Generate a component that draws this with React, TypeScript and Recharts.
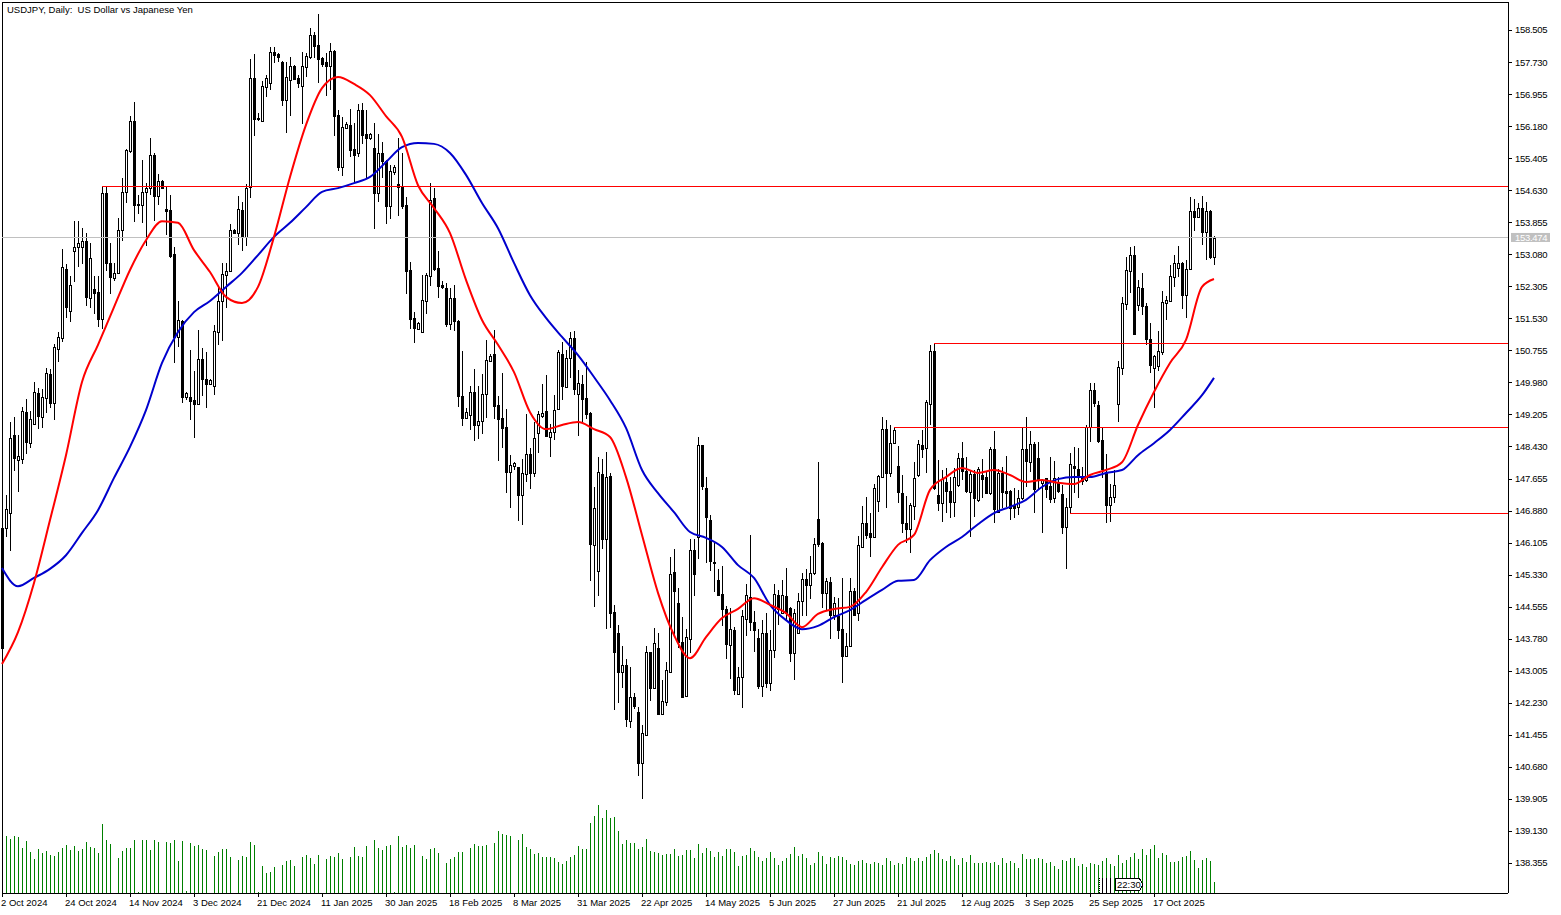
import { Bar, ComposedChart, Line, ReferenceLine, XAxis, YAxis } from "recharts";

const FONT = "'Liberation Sans', Arial, sans-serif";

// daily bars, oldest first
const opens = [
  146.46, 146.46, 146.82, 148.71, 148.10, 148.13, 149.26, 148.51, 148.97, 149.72,
  149.14, 149.60, 150.18, 149.48, 150.79, 151.05, 152.72, 151.71, 153.16, 153.26,
  153.26, 153.40, 152.02, 152.24, 152.17, 151.51, 154.56, 152.87, 152.51, 152.63,
  153.67, 154.59, 155.58, 156.30, 154.30, 154.27, 154.59, 154.68, 155.48, 154.49,
  154.85, 154.17, 154.15, 153.09, 151.08, 151.47, 149.63, 149.63, 149.55, 149.46,
  150.55, 150.06, 149.94, 149.89, 151.20, 151.95, 152.58, 152.67, 153.67, 153.59,
  154.15, 153.50, 154.71, 157.34, 156.38, 156.30, 157.13, 157.22, 157.97, 157.92,
  157.73, 156.81, 157.30, 157.63, 157.34, 157.15, 157.61, 157.85, 158.38, 158.14,
  157.83, 157.73, 157.63, 157.99, 156.45, 155.19, 156.13, 156.21, 155.63, 155.53,
  156.57, 155.99, 155.89, 155.65, 154.56, 155.53, 155.34, 154.25, 155.07, 154.78,
  154.71, 154.27, 152.70, 151.54, 151.27, 151.20, 151.95, 152.55, 154.44, 152.75,
  152.34, 152.26, 151.39, 152.02, 151.46, 149.65, 149.12, 149.19, 149.75, 148.95,
  149.05, 149.70, 150.50, 150.67, 149.43, 149.12, 148.90, 147.81, 147.96, 147.93,
  147.26, 147.76, 148.25, 147.79, 148.76, 149.17, 149.29, 148.66, 148.78, 149.34,
  150.67, 149.87, 150.57, 151.05, 149.70, 149.94, 149.60, 149.24, 146.05, 145.42,
  147.76, 146.19, 147.72, 144.43, 143.92, 142.97, 143.14, 141.79, 142.37, 142.01,
  140.77, 141.45, 143.46, 142.59, 143.55, 141.96, 142.25, 142.97, 145.39, 144.64,
  143.70, 142.39, 143.77, 145.93, 146.24, 148.47, 147.42, 146.65, 145.64, 145.20,
  144.86, 144.50, 143.63, 143.99, 142.44, 142.85, 144.26, 144.79, 144.18, 143.80,
  142.64, 143.92, 142.71, 143.51, 144.84, 144.40, 144.81, 144.52, 143.43, 143.92,
  144.69, 145.22, 145.08, 145.37, 146.68, 146.09, 144.88, 145.15, 144.35, 144.33,
  144.01, 143.36, 143.60, 144.93, 144.40, 146.00, 146.58, 146.34, 146.24, 147.11,
  147.69, 148.85, 147.79, 148.51, 147.96, 147.30, 146.58, 146.43, 146.99, 147.74,
  148.47, 148.39, 149.46, 150.74, 147.26, 147.06, 147.57, 147.35, 147.09, 147.50,
  148.15, 147.84, 147.33, 147.76, 147.14, 147.74, 147.69, 147.30, 148.37, 146.84,
  147.79, 147.35, 147.35, 147.01, 146.97, 147.18, 148.37, 148.05, 148.49, 148.15,
  147.55, 147.67, 147.47, 147.18, 147.55, 147.28, 146.48, 146.97, 147.96, 147.88,
  147.67, 147.62, 148.90, 149.80, 149.43, 148.59, 147.81, 147.01, 147.21, 149.46,
  150.33, 151.88, 152.67, 153.06, 151.85, 152.26, 151.83, 151.03, 150.33, 150.38,
  150.72, 151.90, 151.95, 152.53, 152.75, 152.87, 152.09, 152.72, 154.13, 153.98,
  154.20, 153.62, 154.13, 153.01,
];

const highs = [
  146.53, 147.26, 149.02, 149.14, 148.71, 149.38, 149.58, 149.29, 149.99, 149.84,
  149.82, 150.33, 150.30, 150.91, 151.20, 153.21, 152.84, 152.55, 153.88, 153.88,
  153.71, 153.59, 153.35, 152.55, 152.55, 154.71, 154.73, 153.35, 152.87, 153.96,
  154.92, 155.63, 156.42, 156.76, 154.51, 155.36, 154.80, 155.89, 155.53, 155.02,
  154.88, 154.71, 154.51, 153.26, 151.95, 151.49, 149.75, 150.76, 150.26, 151.25,
  150.81, 150.72, 150.06, 151.37, 152.26, 152.87, 152.87, 153.81, 153.69, 154.49,
  154.34, 154.78, 157.80, 157.92, 156.50, 157.27, 157.42, 158.09, 158.09, 157.95,
  157.75, 157.73, 157.85, 157.66, 157.42, 157.97, 157.95, 158.55, 158.46, 158.89,
  157.85, 157.95, 158.19, 158.02, 156.57, 156.40, 156.28, 156.59, 156.25, 156.71,
  156.74, 156.57, 156.01, 156.25, 155.99, 155.80, 155.36, 155.24, 155.24, 155.89,
  155.53, 154.46, 152.89, 151.68, 151.44, 152.58, 152.63, 154.80, 154.68, 153.16,
  152.43, 152.38, 152.26, 152.34, 151.49, 150.74, 149.36, 149.89, 150.30, 149.89,
  150.18, 151.01, 150.67, 151.25, 149.65, 150.21, 149.34, 148.22, 148.05, 147.93,
  148.13, 149.22, 148.39, 149.02, 149.29, 149.94, 150.16, 148.97, 149.67, 150.76,
  150.96, 150.76, 151.20, 151.22, 150.28, 150.16, 150.47, 149.26, 147.45, 148.18,
  148.13, 148.30, 147.79, 144.60, 144.11, 143.60, 143.29, 143.09, 142.47, 142.13,
  141.69, 143.60, 143.46, 144.04, 143.92, 142.78, 143.22, 145.76, 145.95, 145.01,
  144.30, 144.01, 146.19, 146.19, 148.66, 148.47, 147.69, 146.77, 146.09, 145.47,
  145.54, 144.57, 144.52, 144.06, 143.09, 144.47, 145.10, 146.29, 144.45, 144.01,
  144.23, 144.40, 143.99, 145.10, 144.96, 145.20, 145.49, 144.55, 144.50, 144.89,
  145.37, 145.47, 145.78, 146.22, 148.05, 146.12, 145.25, 145.27, 144.79, 144.76,
  145.25, 143.92, 145.25, 145.01, 146.27, 146.99, 147.21, 146.82, 147.52, 147.74,
  149.14, 149.07, 148.95, 148.88, 148.44, 147.74, 147.23, 147.06, 148.05, 148.59,
  148.83, 149.55, 150.89, 150.93, 148.10, 147.86, 147.91, 147.69, 147.91, 148.27,
  148.54, 148.18, 147.86, 147.86, 147.93, 148.13, 147.81, 148.42, 148.80, 147.88,
  147.93, 148.20, 147.38, 147.43, 147.38, 148.90, 149.14, 148.80, 148.54, 148.54,
  147.64, 147.67, 148.18, 148.08, 147.69, 147.50, 147.18, 148.27, 148.42, 148.39,
  147.93, 148.95, 149.97, 149.97, 149.53, 148.90, 148.25, 147.52, 147.86, 150.50,
  152.05, 153.01, 153.26, 153.28, 152.46, 152.63, 151.90, 151.41, 150.64, 151.22,
  152.19, 152.07, 152.82, 153.06, 153.28, 152.89, 152.94, 154.46, 154.42, 154.32,
  154.49, 154.34, 154.15, 153.52,
];

const lows = [
  143.51, 146.24, 145.90, 147.84, 147.33, 148.01, 148.25, 148.39, 148.97, 148.85,
  148.88, 149.24, 149.36, 149.07, 150.47, 150.96, 151.54, 151.44, 152.41, 152.77,
  152.84, 151.83, 151.78, 151.64, 151.32, 151.27, 152.67, 152.12, 152.43, 152.60,
  153.40, 154.32, 155.53, 153.86, 154.05, 153.84, 153.28, 154.51, 153.88, 154.27,
  154.66, 153.55, 152.99, 150.45, 150.84, 149.48, 149.55, 149.07, 148.64, 149.43,
  149.65, 149.36, 149.92, 149.67, 150.89, 150.98, 151.78, 152.65, 153.57, 153.30,
  153.16, 153.28, 154.44, 155.94, 156.30, 156.30, 156.88, 157.05, 157.71, 157.73,
  156.67, 156.01, 156.42, 157.30, 157.10, 156.23, 157.37, 157.80, 157.83, 157.22,
  157.61, 156.91, 157.05, 155.94, 155.09, 154.97, 156.11, 155.43, 154.80, 155.43,
  155.75, 154.92, 155.84, 153.69, 154.34, 154.92, 153.81, 153.93, 154.99, 154.00,
  154.17, 152.12, 151.27, 150.93, 151.27, 151.17, 151.64, 152.31, 152.67, 152.02,
  152.24, 151.32, 151.25, 151.22, 149.38, 148.92, 149.12, 148.83, 148.56, 148.61,
  148.73, 149.12, 150.47, 149.09, 148.08, 148.39, 147.30, 146.94, 147.86, 146.63,
  146.53, 147.57, 147.40, 147.69, 148.27, 149.12, 148.66, 148.18, 148.59, 149.31,
  149.55, 149.84, 150.09, 149.67, 148.68, 149.00, 149.09, 145.18, 144.55, 144.81,
  145.95, 144.01, 144.04, 142.05, 142.22, 142.59, 141.64, 141.62, 142.08, 140.46,
  139.90, 141.42, 142.27, 142.59, 141.96, 141.96, 142.15, 142.95, 143.87, 143.55,
  142.35, 142.37, 143.43, 144.81, 145.71, 147.38, 145.61, 145.42, 144.91, 144.84,
  144.09, 143.29, 142.80, 142.42, 142.42, 142.10, 143.85, 143.97, 143.46, 142.56,
  142.37, 142.59, 142.51, 143.31, 144.11, 144.40, 144.23, 143.22, 142.78, 143.92,
  144.33, 144.33, 144.74, 145.32, 146.00, 144.52, 144.47, 143.77, 144.23, 143.77,
  142.71, 143.34, 143.58, 144.35, 144.21, 145.97, 146.19, 145.76, 146.24, 146.85,
  147.67, 146.94, 147.69, 148.51, 147.06, 146.34, 146.09, 145.85, 146.65, 147.69,
  148.15, 147.79, 148.95, 147.38, 146.87, 146.60, 146.82, 146.70, 146.72, 147.45,
  147.62, 147.30, 146.24, 146.72, 147.09, 147.18, 147.30, 147.26, 146.58, 146.82,
  146.94, 146.97, 146.65, 146.70, 146.77, 147.14, 147.45, 147.81, 146.82, 147.38,
  146.34, 147.18, 147.06, 147.06, 147.30, 146.31, 145.47, 146.80, 147.30, 147.18,
  147.50, 147.57, 148.54, 149.38, 148.51, 147.67, 146.58, 146.60, 147.06, 149.02,
  150.16, 151.73, 152.14, 151.13, 151.71, 151.61, 150.89, 150.21, 149.36, 150.26,
  150.64, 151.49, 151.92, 152.29, 152.53, 151.76, 151.54, 152.70, 153.64, 153.98,
  153.30, 152.94, 152.96, 152.82,
];

const closes = [
  143.56, 146.92, 148.64, 148.15, 148.20, 149.29, 148.54, 149.09, 149.75, 149.17,
  149.63, 150.21, 149.48, 150.84, 151.08, 152.77, 151.80, 152.34, 153.26, 153.35,
  153.40, 152.05, 152.99, 152.14, 151.51, 154.56, 152.87, 152.53, 152.63, 153.67,
  154.59, 155.60, 156.30, 154.27, 154.27, 154.59, 154.68, 155.48, 154.49, 154.85,
  154.68, 154.13, 153.04, 151.08, 151.49, 149.63, 149.72, 149.53, 149.46, 150.55,
  150.06, 149.94, 150.04, 151.22, 151.95, 152.60, 152.67, 153.67, 153.59, 154.17,
  153.52, 154.68, 157.34, 156.35, 156.35, 157.15, 157.34, 157.97, 157.90, 157.85,
  156.81, 157.37, 157.63, 157.32, 157.22, 157.63, 157.88, 158.38, 158.12, 157.80,
  157.68, 157.63, 157.99, 156.42, 155.19, 156.16, 156.23, 155.60, 155.48, 156.57,
  155.96, 155.89, 155.99, 154.56, 155.53, 155.34, 154.25, 155.09, 155.19, 154.71,
  154.25, 152.67, 151.51, 151.30, 151.42, 151.97, 152.58, 154.39, 152.72, 152.31,
  152.29, 151.39, 152.02, 151.46, 149.65, 149.12, 149.26, 149.75, 148.95, 149.05,
  149.70, 150.52, 150.62, 149.41, 149.09, 148.88, 147.81, 147.98, 148.03, 147.26,
  147.79, 148.25, 147.79, 148.64, 149.22, 149.24, 148.68, 148.78, 149.31, 150.72,
  149.89, 150.57, 151.05, 149.82, 149.96, 149.58, 149.22, 146.07, 146.94, 147.81,
  146.19, 147.69, 144.40, 143.46, 142.97, 143.14, 141.84, 142.37, 142.15, 140.77,
  141.50, 143.46, 142.59, 143.68, 141.96, 142.27, 143.02, 145.35, 144.93, 143.70,
  142.37, 143.82, 145.93, 145.35, 148.47, 147.47, 146.72, 145.66, 145.61, 144.84,
  144.50, 143.65, 144.01, 142.54, 142.85, 144.33, 144.84, 144.18, 143.99, 142.64,
  143.92, 142.71, 143.51, 144.86, 144.50, 144.84, 144.40, 143.43, 144.40, 144.69,
  145.22, 145.08, 145.37, 146.07, 146.07, 144.88, 145.18, 144.35, 144.64, 143.99,
  143.36, 143.60, 144.93, 144.35, 146.05, 146.58, 146.29, 146.24, 147.42, 147.71,
  148.85, 147.79, 148.51, 148.83, 147.33, 146.58, 146.43, 147.01, 147.67, 148.49,
  148.37, 149.50, 150.74, 147.43, 147.06, 147.64, 147.35, 147.09, 147.69, 148.15,
  147.84, 147.35, 147.76, 147.18, 147.88, 147.64, 147.30, 148.37, 146.92, 147.79,
  147.33, 147.30, 146.94, 146.94, 147.18, 148.37, 148.08, 148.49, 147.40, 147.62,
  147.62, 147.40, 147.16, 147.67, 147.35, 146.48, 146.97, 148.01, 147.91, 147.69,
  147.59, 148.90, 149.80, 149.48, 148.56, 147.88, 147.01, 147.21, 147.50, 150.35,
  151.90, 152.70, 153.06, 151.15, 152.29, 151.83, 151.03, 150.40, 150.62, 150.74,
  151.92, 151.97, 152.55, 152.87, 152.87, 152.09, 152.72, 154.13, 153.98, 154.20,
  153.62, 154.13, 153.01, 153.474,
];

// tick volume, thousands
const volumes = [
  50, 57, 54, 57, 56, 45, 52, 41, 34, 44, 40, 42, 38, 37, 41, 45, 48, 43, 47, 42,
  44, 51, 46, 45, 40, 69, 53, 49, 0, 35, 42, 45, 45, 53, 1, 53, 53, 43, 53, 51,
  0, 51, 50, 53, 32, 52, 2, 50, 47, 48, 44, 43, 0, 37, 41, 44, 44, 36, 0, 33,
  37, 36, 51, 48, 1, 27, 20, 21, 26, 0, 28, 32, 33, 27, 0, 36, 38, 35, 29, 38,
  0, 34, 37, 36, 40, 34, 0, 36, 46, 37, 36, 47, 0, 53, 45, 43, 47, 48, 1, 57,
  46, 48, 45, 48, 0, 37, 34, 44, 45, 40, 0, 30, 34, 36, 41, 41, 0, 45, 49, 47,
  47, 48, 0, 50, 62, 59, 58, 57, 0, 53, 59, 46, 44, 39, 40, 36, 36, 36, 35, 31,
  29, 32, 36, 38, 47, 44, 44, 70, 77, 88, 75, 83, 75, 76, 62, 49, 53, 50, 50, 44,
  46, 54, 42, 41, 40, 38, 39, 39, 44, 37, 38, 43, 43, 35, 49, 40, 45, 42, 36, 41,
  37, 44, 44, 41, 27, 37, 38, 45, 42, 36, 32, 35, 41, 35, 28, 32, 35, 39, 46, 37,
  39, 35, 28, 30, 41, 37, 29, 36, 35, 37, 36, 33, 29, 28, 32, 33, 30, 29, 31, 30,
  28, 35, 32, 28, 30, 29, 36, 35, 32, 35, 32, 36, 39, 43, 40, 34, 32, 37, 34, 28,
  35, 31, 38, 30, 30, 30, 31, 30, 31, 28, 35, 30, 32, 30, 25, 39, 34, 34, 34, 35,
  34, 30, 31, 27, 24, 33, 32, 35, 35, 27, 29, 26, 30, 29, 28, 32, 35, 29, 27, 38,
  30, 33, 36, 40, 34, 44, 38, 44, 48, 35, 40, 38, 31, 31, 32, 36, 37, 42, 33, 25,
  33, 35, 32, 11,
];

// moving averages read at these bars only
const maBars = [
  0, 4, 8, 12, 16, 20, 24, 28, 32, 36, 40, 44, 48, 52, 56, 60, 64, 68, 72, 76,
  80, 84, 88, 92, 96, 100, 104, 108, 112, 116, 120, 124, 128, 132, 136, 140, 144, 148, 152, 156,
  160, 164, 168, 172, 176, 180, 184, 188, 192, 196, 200, 204, 208, 212, 216, 220, 224, 228, 232, 236,
  240, 244, 248, 252, 256, 260, 264, 268, 272, 276, 280, 284, 288, 292, 296, 300, 303,
];
const fastMa = [
  143.17, 143.94, 145.13, 146.65, 148.22, 149.99, 150.89, 151.80, 152.70, 153.42,
  153.88, 153.84, 153.18, 152.65, 152.05, 151.90, 152.29, 153.50, 154.95, 156.21,
  157.10, 157.37, 157.20, 156.93, 156.42, 155.92, 154.75, 154.20, 153.59, 152.46,
  151.49, 150.89, 150.23, 149.26, 148.85, 148.95, 149.02, 148.85, 148.66, 147.69,
  146.29, 144.89, 143.87, 143.31, 143.82, 144.28, 144.50, 144.76, 144.60, 144.40,
  144.06, 144.38, 144.50, 144.55, 144.91, 145.51, 146.05, 146.29, 147.38, 147.69,
  147.91, 147.79, 147.86, 147.74, 147.57, 147.62, 147.55, 147.52, 147.74, 147.86,
  148.05, 148.95, 149.75, 150.45, 151.01, 152.29, 152.48,
];
const slowMa = [
  145.49, 145.05, 145.25, 145.47, 145.80, 146.34, 146.89, 147.67, 148.42, 149.31,
  150.45, 151.20, 151.68, 151.95, 152.29, 152.63, 153.06, 153.50, 153.84, 154.22,
  154.59, 154.68, 154.80, 154.95, 155.31, 155.67, 155.77, 155.75, 155.53, 155.00,
  154.32, 153.71, 152.87, 152.09, 151.54, 151.08, 150.64, 150.11, 149.55, 148.88,
  147.86, 147.30, 146.84, 146.36, 146.22, 146.00, 145.56, 145.25, 144.60, 144.23,
  144.01, 144.09, 144.30, 144.47, 144.72, 144.96, 145.18, 145.20, 145.68, 146.00,
  146.24, 146.55, 146.82, 146.97, 147.14, 147.45, 147.64, 147.69, 147.69, 147.79,
  147.86, 148.22, 148.51, 148.83, 149.24, 149.67, 150.09,
];

const priceTicks = [
  158.505, 157.73, 156.955, 156.18, 155.405, 154.63, 153.855, 153.08, 152.305, 151.53,
  150.755, 149.98, 149.205, 148.43, 147.655, 146.88, 146.105, 145.33, 144.555, 143.78,
  143.005, 142.23, 141.455, 140.68, 139.905, 139.13, 138.355,
];
const dateLabels = [
  "2 Oct 2024", "24 Oct 2024", "14 Nov 2024", "3 Dec 2024", "21 Dec 2024", "11 Jan 2025",
  "30 Jan 2025", "18 Feb 2025", "8 Mar 2025", "31 Mar 2025", "22 Apr 2025", "14 May 2025",
  "5 Jun 2025", "27 Jun 2025", "21 Jul 2025", "12 Aug 2025", "3 Sep 2025", "25 Sep 2025",
  "17 Oct 2025",
];
const dateTicks = dateLabels.map((_, k) => k * 16);

const lastPrice = 153.474;
// horizontal levels: bar where the level starts, and its price
const levelBars = [25, 223, 233, 267];
const levelPrices = [154.71, 148.88, 150.91, 146.8];

const Y_TOP = 159.182;
const Y_BOTTOM = 137.629;
const X_END = 376.5;

const rows = opens.map((open, i) => {
  const m = maBars.indexOf(i);
  return {
    i,
    open,
    high: highs[i],
    low: lows[i],
    close: closes[i],
    volume: volumes[i],
    fast: m >= 0 ? fastMa[m] : null,
    slow: m >= 0 ? slowMa[m] : null,
  };
});

function Candle(props: any) {
  const { x, y, width, height, payload } = props;
  const cx = Math.round(x + width / 2);
  const perPrice = height / (payload.high - payload.low);
  const yOf = (p: number) => Math.round(y + (payload.high - p) * perPrice);
  const top = yOf(Math.max(payload.open, payload.close));
  const bottom = yOf(Math.min(payload.open, payload.close));
  const up = payload.close >= payload.open;
  return (
    <g shapeRendering="crispEdges">
      <line x1={cx + 0.5} x2={cx + 0.5} y1={yOf(payload.high)} y2={yOf(payload.low)} stroke="#000" />
      {up ? (
        <rect x={cx - 0.5} y={top + 0.5} width={2} height={Math.max(bottom - top, 1)} fill="#fff" stroke="#000" />
      ) : (
        <rect x={cx - 1} y={top} width={3} height={Math.max(bottom - top + 1, 2)} fill="#000" />
      )}
    </g>
  );
}

function VolumeBar(props: any) {
  const { x, y, width, height } = props;
  const cx = Math.round(x + width / 2);
  return <rect x={cx} y={y} width={1} height={height} fill="#008000" shapeRendering="crispEdges" />;
}

function PriceTick(props: any) {
  const { x, y, payload } = props;
  if (payload.value === lastPrice) {
    return (
      <g>
        <rect x={x - 5} y={y - 5} width={39} height={9} fill="#c0c0c0" />
        <text x={x - 1} y={y + 3} fontSize={9.5} letterSpacing={-0.3} fontFamily={FONT} fill="#fff">
          {lastPrice.toFixed(3)}
        </text>
      </g>
    );
  }
  return (
    <g>
      <line x1={x - 8} x2={x - 4} y1={Math.round(y) + 0.5} y2={Math.round(y) + 0.5} stroke="#000" shapeRendering="crispEdges" />
      <text x={x - 1} y={y + 3.5} fontSize={9.5} letterSpacing={-0.3} fontFamily={FONT} fill="#000">
        {payload.value.toFixed(3)}
      </text>
    </g>
  );
}

function DateTick(props: any) {
  const { x, y, payload } = props;
  return (
    <g>
      <line x1={x + 0.5} x2={x + 0.5} y1={y - 8} y2={y - 4} stroke="#000" shapeRendering="crispEdges" />
      <text x={x - 1} y={y + 5} fontSize={9.5} fontFamily={FONT} fill="#000">
        {dateLabels[payload.index ?? dateTicks.indexOf(payload.value)]}
      </text>
    </g>
  );
}

export default function App() {
  return (
    <div style={{ position: "absolute", left: 0, top: 0, width: 1561, height: 915, background: "#fff" }}>
      <ComposedChart
        width={1561}
        height={915}
        data={rows}
        margin={{ top: 2, right: 0, left: 2, bottom: 0 }}
      >
        <XAxis
          dataKey="i"
          type="number"
          domain={[0, X_END]}
          ticks={dateTicks}
          interval={0}
          height={22}
          tick={DateTick}
          tickLine={false}
          axisLine={{ stroke: "#000", shapeRendering: "crispEdges" }}
        />
        {/* volume gets its own x axis so its bars are not grouped beside the candles */}
        <XAxis xAxisId="vol" dataKey="i" type="number" domain={[0, X_END]} hide />
        <YAxis
          yAxisId="price"
          orientation="right"
          domain={[Y_BOTTOM, Y_TOP]}
          ticks={[...priceTicks, lastPrice]}
          interval={0}
          width={53}
          tick={PriceTick}
          tickLine={false}
          axisLine={{ stroke: "#000", shapeRendering: "crispEdges" }}
        />
        <YAxis yAxisId="volume" hide domain={[0, 891]} />
        <ReferenceLine yAxisId="price" x={0} stroke="#000" ifOverflow="visible" shapeRendering="crispEdges" />
        <ReferenceLine yAxisId="price" y={Y_TOP} stroke="#000" ifOverflow="visible" shapeRendering="crispEdges" />
        <Bar
          xAxisId="vol"
          yAxisId="volume"
          dataKey="volume"
          barSize={1}
          shape={VolumeBar}
          isAnimationActive={false}
        />
        <Bar
          yAxisId="price"
          dataKey={(d: any) => [d.low, d.high]}
          barSize={3}
          shape={Candle}
          isAnimationActive={false}
        />
        <ReferenceLine yAxisId="price" y={lastPrice} stroke="#c0c0c0" shapeRendering="crispEdges" />
        {levelBars.map((bar, k) => (
          <ReferenceLine
            key={bar}
            yAxisId="price"
            stroke="#ff0000"
            shapeRendering="crispEdges"
            segment={[
              { x: bar, y: levelPrices[k] },
              { x: X_END, y: levelPrices[k] },
            ]}
          />
        ))}
        <Line
          yAxisId="price"
          type="monotone"
          dataKey="slow"
          stroke="#0000cd"
          strokeWidth={2}
          dot={false}
          connectNulls
          isAnimationActive={false}
        />
        <Line
          yAxisId="price"
          type="monotone"
          dataKey="fast"
          stroke="#ff0000"
          strokeWidth={2}
          dot={false}
          connectNulls
          isAnimationActive={false}
        />
      </ComposedChart>
      <div
        style={{
          position: "absolute",
          left: 7,
          top: 4,
          fontFamily: FONT,
          fontSize: 9.5,
          lineHeight: "11px",
          whiteSpace: "pre",
          color: "#000",
        }}
      >
        {"USDJPY, Daily:  US Dollar vs Japanese Yen"}
      </div>
      <svg
        style={{ position: "absolute", left: 1096, top: 876 }}
        width={50}
        height={18}
        shapeRendering="crispEdges"
      >
        <line x1={3.5} x2={3.5} y1={2} y2={17} stroke="#000" strokeDasharray="1 1" />
        <line x1={6.5} x2={6.5} y1={2} y2={17} stroke="#000" />
        <line x1={10.5} x2={10.5} y1={2} y2={17} stroke="#000" />
        <line x1={14.5} x2={14.5} y1={2} y2={17} stroke="#000" />
        <polygon points="19.5,2.5 43.5,2.5 47,9 43.5,14.5 19.5,14.5" fill="#fff" stroke="#000" />
        <text x={21} y={12} fontSize={9.5} fontFamily={FONT} fill="#000">
          22:30
        </text>
      </svg>
    </div>
  );
}
